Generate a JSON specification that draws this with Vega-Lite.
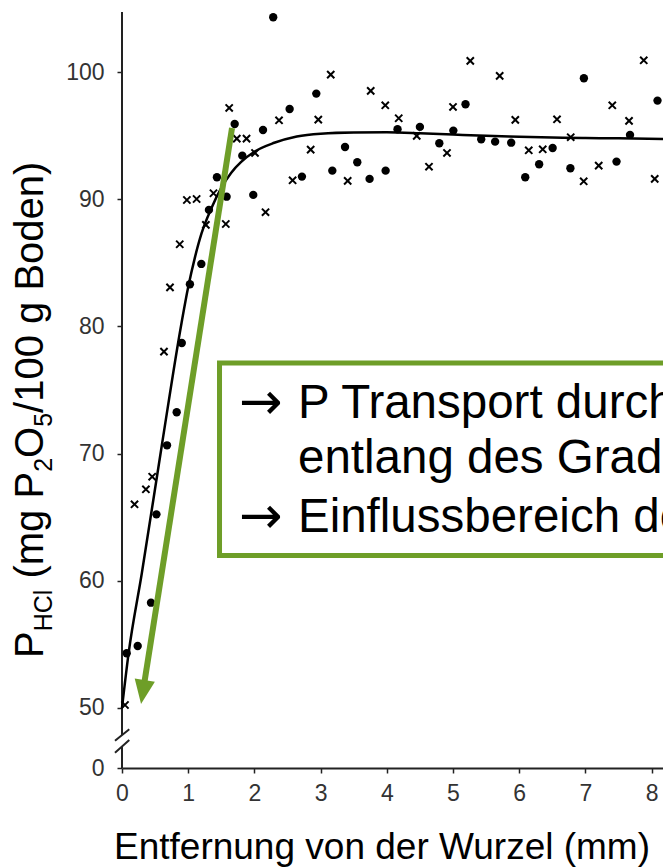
{
  "$schema": "https://vega.github.io/schema/vega-lite/v6.json",
  "width": 541,
  "height": 756,
  "autosize": {"type": "none"},
  "padding": {"left": 122, "top": 12, "right": 0, "bottom": 99},
  "background": "white",
  "config": {"view": {"stroke": null}, "font": "Liberation Sans"},
  "datasets": {
    "dots": [
      {"x":2.284,"y":104.33},{"x":1.702,"y":95.93},{"x":2.13,"y":95.46},{"x":2.532,"y":97.11},{"x":2.935,"y":98.32},{"x":1.817,"y":93.44},{"x":1.434,"y":91.74},{"x":1.58,"y":90.21},{"x":1.983,"y":90.35},{"x":1.313,"y":89.17},{"x":1.198,"y":84.92},{"x":1.026,"y":83.32},{"x":2.718,"y":91.79},{"x":3.177,"y":92.26},{"x":3.369,"y":94.12},{"x":3.554,"y":92.92},{"x":3.74,"y":91.61},{"x":3.982,"y":92.26},{"x":4.162,"y":95.52},{"x":4.5,"y":95.7},{"x":4.793,"y":94.41},{"x":5.005,"y":95.41},{"x":5.189,"y":97.48},{"x":5.426,"y":94.73},{"x":5.636,"y":94.54},{"x":5.879,"y":94.46},{"x":6.091,"y":91.74},{"x":6.301,"y":92.76},{"x":6.505,"y":94.04},{"x":6.773,"y":92.45},{"x":6.977,"y":99.53},{"x":7.47,"y":92.97},{"x":7.674,"y":95.07},{"x":8.089,"y":97.77},{"x":0.903,"y":78.7},{"x":0.826,"y":73.25},{"x":0.68,"y":70.65},{"x":0.52,"y":65.22},{"x":0.438,"y":58.27},{"x":0.237,"y":54.86},{"x":0.071,"y":54.29}
    ],
    "crosses": [
      {"x":3.153,"y":99.81},{"x":2.965,"y":96.27},{"x":2.85,"y":93.91},{"x":3.409,"y":91.45},{"x":3.757,"y":98.53},{"x":3.977,"y":97.4},{"x":4.18,"y":96.38},{"x":4.452,"y":94.99},{"x":4.637,"y":92.57},{"x":4.909,"y":93.65},{"x":5.0,"y":97.27},{"x":5.261,"y":100.89},{"x":5.705,"y":99.71},{"x":5.941,"y":96.25},{"x":6.144,"y":93.86},{"x":6.355,"y":93.94},{"x":6.571,"y":96.3},{"x":6.778,"y":94.89},{"x":6.974,"y":91.42},{"x":7.201,"y":92.65},{"x":7.406,"y":97.4},{"x":7.659,"y":96.17},{"x":7.881,"y":100.94},{"x":8.047,"y":91.61},{"x":1.619,"y":97.19},{"x":1.734,"y":94.78},{"x":1.881,"y":94.78},{"x":2.009,"y":93.65},{"x":2.372,"y":96.22},{"x":2.168,"y":88.99},{"x":2.577,"y":91.5},{"x":0.98,"y":89.95},{"x":1.127,"y":90.03},{"x":1.382,"y":90.48},{"x":1.267,"y":87.99},{"x":1.568,"y":88.06},{"x":0.872,"y":86.47},{"x":0.725,"y":83.08},{"x":0.634,"y":78.02},{"x":0.456,"y":68.18},{"x":0.361,"y":67.19},{"x":0.189,"y":66.01},{"x":0.045,"y":50.22}
    ],
    "fit": [
      {"x":0,"y":50},{"x":0.1,"y":54.3},{"x":0.3,"y":60.6},{"x":0.6,"y":70.6},{"x":0.9,"y":80.3},{"x":1.0,"y":83.1},{"x":1.1,"y":85.4},{"x":1.2,"y":87.3},{"x":1.35,"y":89.3},{"x":1.5,"y":90.9},{"x":1.65,"y":92.1},{"x":1.8,"y":92.95},{"x":2.0,"y":93.75},{"x":2.3,"y":94.45},{"x":2.64,"y":94.95},{"x":3.0,"y":95.17},{"x":3.5,"y":95.26},{"x":4.0,"y":95.27},{"x":4.5,"y":95.2},{"x":5.0,"y":95.1},{"x":5.5,"y":95.0},{"x":6.0,"y":94.93},{"x":6.5,"y":94.87},{"x":7.0,"y":94.83},{"x":7.5,"y":94.8},{"x":8.172,"y":94.75}
    ],
    "axisline": [
      {"x":0,"x2":0,"y":0,"y2":18.3},
      {"x":0,"x2":0,"y":27.4,"y2":104.74},
      {"x":-0.106,"x2":0.11,"y":22.67,"y2":32.14},
      {"x":-0.106,"x2":0.11,"y":12.71,"y2":23.26}
    ],
    "arrow": [{"x":1.662,"y":95.62,"x2":0.337,"y2":51.95}],
    "arrowhead": [{"x":0.316,"y":51.24}],
    "box": [{"x":1.473,"x2":9.5,"y":77.13,"y2":61.98}],
    "boxarrows": [
      {"x":1.767,"y":72.72,"text":"→"},
      {"x":1.767,"y":63.75,"text":"→"}
    ],
    "boxtext": [
      {"x":2.658,"y":72.78,"text":"P Transport durch Diffusion"},
      {"x":2.658,"y":68.45,"text":"entlang des Gradienten"},
      {"x":2.658,"y":63.86,"text":"Einflussbereich der Wurzel"}
    ],
    "ytitle": [
      {"x":-1.193,"y":53.92,"text":"P"},
      {"x":-1.193,"y":60.17,"text":"(mg P"},
      {"x":-1.193,"y":69.66,"text":"O"},
      {"x":-1.193,"y":73.2,"text":"/100 g Boden)"}
    ],
    "ytitlesub": [
      {"x":-1.057,"y":56.02,"text":"HCl"},
      {"x":-1.057,"y":68.57,"text":"2"},
      {"x":-1.057,"y":72.11,"text":"5"}
    ]
  },
  "encoding": {
    "x": {
      "field": "x", "type": "quantitative",
      "scale": {"domain": [0, 8.172], "nice": false, "zero": false},
      "axis": {
        "values": [0,1,2,3,4,5,6,7,8],
        "title": "Entfernung von der Wurzel (mm)",
        "titleFontSize": 37, "titleFontWeight": "normal", "titleColor": "black",
        "titleX": 259.5, "titleY": 90, "titleAlign": "center", "titleBaseline": "alphabetic", "titleAnchor": "start",
        "grid": false, "tickSize": 5, "tickColor": "#222", "tickWidth": 1.5,
        "domainColor": "#222", "domainWidth": 2,
        "labelFontSize": 23, "labelColor": "#333", "labelPadding": 9,
        "labelFlush": false, "labelOverlap": false, "labelBound": false
      }
    },
    "y": {
      "field": "y", "type": "quantitative",
      "scale": {"domain": [0, 50, 104.74], "range": [756, 695.8, 0], "nice": false, "zero": false},
      "axis": {
        "values": [0,50,60,70,80,90,100],
        "title": null, "domain": false, "grid": false,
        "tickSize": 5, "tickColor": "#222", "tickWidth": 1.5,
        "labelFontSize": 23, "labelColor": "#333", "labelPadding": 13,
        "labelOverlap": false, "labelBound": false
      }
    }
  },
  "layer": [
    {
      "data": {"name": "axisline"},
      "mark": {"type": "rule", "color": "#222", "strokeWidth": 2},
      "encoding": {"x2": {"field": "x2"}, "y2": {"field": "y2"}}
    },
    {
      "data": {"name": "fit"},
      "mark": {"type": "line", "color": "black", "strokeWidth": 2.5, "interpolate": "monotone"}
    },
    {
      "data": {"name": "dots"},
      "mark": {"type": "point", "shape": "circle", "filled": true, "color": "black", "size": 70, "opacity": 1}
    },
    {
      "data": {"name": "crosses"},
      "mark": {"type": "point", "shape": "M-1,-1L1,1M-1,1L1,-1", "filled": false, "color": "black", "strokeWidth": 2, "size": 52, "opacity": 1}
    },
    {
      "data": {"name": "arrow"},
      "mark": {"type": "rule", "color": "#6e9e28", "strokeWidth": 6, "strokeCap": "butt"},
      "encoding": {"x2": {"field": "x2"}, "y2": {"field": "y2"}}
    },
    {
      "data": {"name": "arrowhead"},
      "mark": {"type": "point", "shape": "M-0.85,-1L0.85,-1L0,1Z", "filled": true, "color": "#6e9e28", "size": 576, "angle": 9, "opacity": 1}
    },
    {
      "data": {"name": "box"},
      "mark": {"type": "rect", "fill": "white", "stroke": "#6e9e28", "strokeWidth": 5},
      "encoding": {"x2": {"field": "x2"}, "y2": {"field": "y2"}}
    },
    {
      "data": {"name": "boxarrows"},
      "mark": {"type": "text", "font": "DejaVu Sans", "fontSize": 52, "color": "black", "align": "left", "baseline": "alphabetic"},
      "encoding": {"text": {"field": "text"}}
    },
    {
      "data": {"name": "boxtext"},
      "mark": {"type": "text", "fontSize": 47.5, "color": "black", "align": "left", "baseline": "alphabetic"},
      "encoding": {"text": {"field": "text"}}
    },
    {
      "data": {"name": "ytitle"},
      "mark": {"type": "text", "fontSize": 40, "color": "black", "align": "left", "baseline": "alphabetic", "angle": 270},
      "encoding": {"text": {"field": "text"}}
    },
    {
      "data": {"name": "ytitlesub"},
      "mark": {"type": "text", "fontSize": 25, "color": "black", "align": "left", "baseline": "alphabetic", "angle": 270},
      "encoding": {"text": {"field": "text"}}
    }
  ]
}
